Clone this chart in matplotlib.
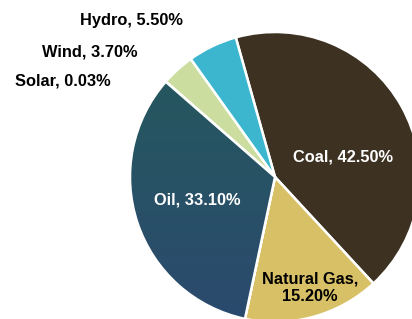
import matplotlib
matplotlib.use("Agg")
import matplotlib.pyplot as plt
import numpy as np
from matplotlib.colors import LinearSegmentedColormap
from matplotlib.patches import Wedge

categories = ["Coal", "Natural Gas", "Oil", "Solar", "Wind", "Hydro"]
values = [42.50, 15.20, 33.10, 0.03, 3.70, 5.50]
colors = ["#3d3222", "#d8c066", "#2a5064", "#cfe0a6", "#cbdea0", "#3cb6cf"]

plt.rcParams['font.family'] = ['Liberation Sans', 'DejaVu Sans']

fig = plt.figure(figsize=(4.12, 3.19), dpi=100)
ax = fig.add_axes([0, 0, 1, 1])

wedges, _ = ax.pie(values, colors=colors, startangle=105.7, counterclock=False,
                   center=(275, 142), radius=145,
                   wedgeprops=dict(edgecolor='white', linewidth=1.8))

# gradient on Oil wedge (teal at top to blue at bottom)
oil = wedges[2]
grad = np.linspace(0, 1, 256).reshape(-1, 1)
cmap = LinearSegmentedColormap.from_list("oil", ["#2b4a6e", "#25585e"])
im = ax.imshow(grad, extent=(120, 290, 0, 250), origin='lower', cmap=cmap,
               aspect='auto', zorder=oil.get_zorder() + 0.1)
im.set_clip_path(oil)
oil_edge = Wedge(oil.center, oil.r, oil.theta1, oil.theta2,
                 facecolor='none', edgecolor='white', linewidth=1.8,
                 zorder=oil.get_zorder() + 0.2)
ax.add_patch(oil_edge)

labels = [f"{c}, {v:.2f}%" for c, v in zip(categories, values)]
fs = 11.8
ax.text(343, 319 - 157, labels[0], color='white', fontsize=fs, fontweight='bold',
        ha='center', va='center', zorder=5)
ax.text(310, 319 - 288, f"{categories[1]},\n{values[1]:.2f}%",
        color='black', fontsize=fs, fontweight='bold', ha='center', va='center',
        linespacing=1.2, zorder=5)
ax.text(197, 319 - 200, labels[2], color='white', fontsize=fs, fontweight='bold',
        ha='center', va='center', zorder=5)
ax.text(63, 319 - 81, labels[3], color='black', fontsize=fs, fontweight='bold',
        ha='center', va='center', zorder=5)
ax.text(90, 319 - 52, labels[4], color='black', fontsize=fs, fontweight='bold',
        ha='center', va='center', zorder=5)
ax.text(131, 319 - 20, labels[5], color='black', fontsize=fs, fontweight='bold',
        ha='center', va='center', zorder=5)

ax.set_xlim(0, 412)
ax.set_ylim(0, 319)
ax.set_aspect('equal')
ax.axis('off')

fig.savefig("out.png", dpi=100, facecolor='white')
